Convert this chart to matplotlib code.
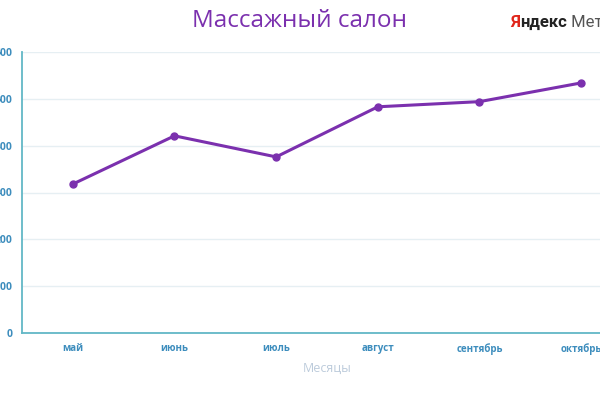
import numpy as np
import matplotlib.pyplot as plt

# data
months = ['май', 'июнь', 'июль', 'август', 'сентябрь', 'октябрь']
values = [318, 421, 376, 483, 494, 534]
yticks = [0, 100, 200, 300, 400, 500, 600]

purple = '#7b30ae'
tick_col = '#3d8dbd'

plt.rcParams['font.family'] = ['Open Sans', 'DejaVu Sans']

fig = plt.figure(figsize=(6, 4), dpi=100)
# axes runs past the right edge like in the screenshot
ax = fig.add_axes([22/600, 67/400, 610/600, 281/400])

x = np.arange(len(months))
ax.plot(x, values, color=purple, lw=2.2, marker='o', ms=5, zorder=3)

ax.set_xlim(-0.5, len(months) - 0.5)
ax.set_ylim(0, 600)
ax.set_xticks(x)
ax.set_xticklabels(months, fontsize=7, fontweight='bold', color=tick_col)
ax.set_yticks(yticks)
ax.set_yticklabels([str(v) for v in yticks], fontsize=7.5, fontweight='bold', color=tick_col)
ax.tick_params(axis='x', length=0, pad=7)
ax.tick_params(axis='y', length=0, pad=7)

ax.grid(axis='y', color='#e6eff3', lw=1)
ax.set_axisbelow(True)
for s in ['top', 'right']:
    ax.spines[s].set_visible(False)
ax.spines['left'].set_color('#62b7c6')
ax.spines['bottom'].set_color('#62b7c6')
ax.spines['left'].set_linewidth(1.3)
ax.spines['bottom'].set_linewidth(1.3)

ax.set_xlabel('Месяцы', fontsize=9, color='#bccbdb', labelpad=5)

fig.text(0.5, 0.947, 'Массажный салон', ha='center', va='center',
         fontsize=17.5, color=purple)

# watermark
t1 = fig.text(510/600, 0.943, 'Я', ha='left', va='center', fontsize=12,
              color='#e0261b', family='Roboto', fontweight='bold')
t2 = ax.annotate('ндекс', xy=(1, 0), xycoords=t1, va='bottom', fontsize=12,
                 color='#222222', family='Roboto', fontweight='bold',
                 annotation_clip=False)
ax.annotate(' Метрика', xy=(1, 0), xycoords=t2, va='bottom', fontsize=12,
            color='#555555', family='Roboto',
            annotation_clip=False)

fig.savefig('out.png', dpi=100)
